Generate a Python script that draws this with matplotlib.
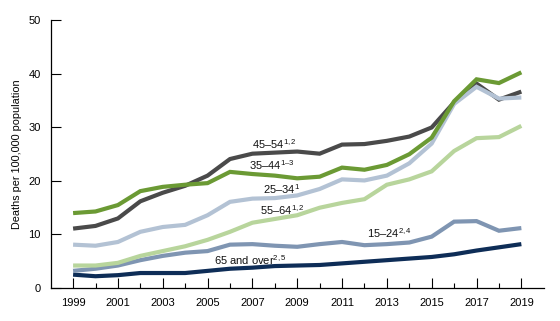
import matplotlib
matplotlib.use("Agg")
import matplotlib.pyplot as plt

plt.rcParams['font.family'] = ['Liberation Sans', 'DejaVu Sans']
plt.rcParams['mathtext.fontset'] = 'custom'
plt.rcParams['mathtext.rm'] = 'Liberation Sans'
plt.rcParams['mathtext.it'] = 'Liberation Sans'

years = list(range(1999, 2020))
age_65_over = [2.5, 2.2, 2.4, 2.8, 2.8, 2.8, 3.2, 3.6, 3.8, 4.1, 4.2, 4.3, 4.6, 4.9, 5.2, 5.5, 5.8, 6.3, 7.0, 7.6, 8.2]
age_15_24 = [3.2, 3.6, 4.2, 5.2, 6.0, 6.6, 6.9, 8.1, 8.2, 7.9, 7.7, 8.2, 8.6, 8.0, 8.2, 8.5, 9.6, 12.4, 12.5, 10.7, 11.2]
age_55_64 = [4.2, 4.2, 4.7, 6.0, 6.9, 7.8, 9.0, 10.5, 12.2, 12.9, 13.6, 15.0, 15.9, 16.6, 19.3, 20.3, 21.8, 25.6, 28.0, 28.2, 30.3]
age_45_54 = [11.1, 11.6, 13.0, 16.2, 17.8, 19.1, 21.0, 24.1, 25.1, 25.3, 25.5, 25.1, 26.8, 26.9, 27.5, 28.3, 30.0, 34.7, 38.2, 35.2, 36.7]
age_25_34 = [8.1, 7.9, 8.6, 10.5, 11.4, 11.8, 13.6, 16.1, 16.7, 16.8, 17.3, 18.5, 20.3, 20.1, 21.0, 23.3, 27.0, 34.4, 37.6, 35.4, 35.6]
age_35_44 = [14.0, 14.3, 15.5, 18.1, 18.9, 19.3, 19.6, 21.7, 21.3, 21.0, 20.5, 20.8, 22.5, 22.1, 23.0, 25.0, 28.1, 34.9, 39.0, 38.3, 40.3]

series = [
    (age_65_over, '#0e2d57'),
    (age_15_24, '#7f95b2'),
    (age_55_64, '#b8d59c'),
    (age_45_54, '#4a4a4a'),
    (age_25_34, '#b3c2d4'),
    (age_35_44, '#6b9a34'),
]

labels = [
    ("45–54$^{1,2}$", 2007.0, 26.9),
    ("35–44$^{1–3}$", 2006.85, 23.0),
    ("25–34$^{1}$", 2007.47, 18.5),
    ("55–64$^{1,2}$", 2007.34, 14.6),
    ("15–24$^{2,4}$", 2012.1, 10.3),
    ("65 and over$^{2,5}$", 2005.29, 5.2),
]

fig = plt.figure(figsize=(5.6, 3.21), dpi=100)
ax = fig.add_axes([0.0905, 0.1028, 0.8805, 0.8335])

for vals, col in series:
    ax.plot(years, vals, color=col, lw=3.0, solid_joinstyle='miter', solid_capstyle='butt')

for txt, x, y in labels:
    ax.text(x, y, txt, fontsize=8, ha='left', va='center', color='#111111')

ax.set_xlim(1998, 2020)
ax.set_ylim(0, 50)
ax.set_xticks(list(range(1999, 2020, 2)))
ax.set_xticks(list(range(2000, 2019, 2)), minor=True)
ax.set_yticks([0, 10, 20, 30, 40, 50])
ax.tick_params(axis='x', which='major', direction='in', length=7, width=0.8, pad=7, labelsize=8)
ax.tick_params(axis='x', which='minor', direction='in', length=3.5, width=0.8)
ax.tick_params(axis='y', which='major', direction='in', length=7, width=0.8, pad=7, labelsize=8)
for s in ['top', 'right']:
    ax.spines[s].set_visible(False)
for s in ['left', 'bottom']:
    ax.spines[s].set_linewidth(0.9)
    ax.spines[s].set_color('#000000')
ax.set_ylabel('Deaths per 100,000 population', fontsize=7.8, labelpad=5)

fig.savefig('out.png', dpi=100)
